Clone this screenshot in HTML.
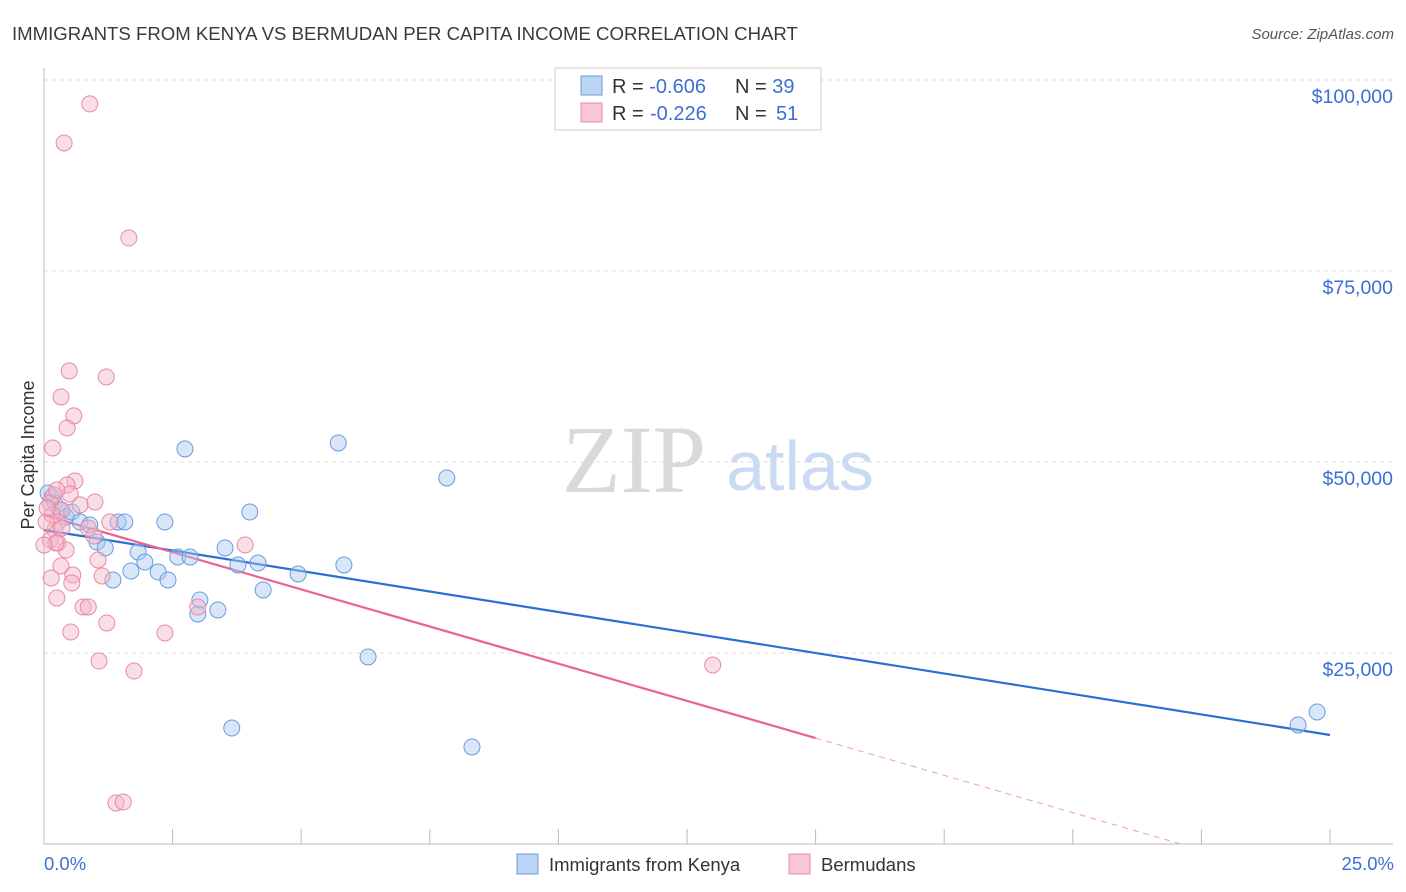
<!DOCTYPE html>
<html><head><meta charset="utf-8">
<style>
body{margin:0;background:#fff;font-family:"Liberation Sans",sans-serif;}
#wrap{position:relative;width:1406px;height:892px;overflow:hidden;}
</style></head>
<body>
<div id="wrap">
<svg id="svg" width="1406" height="892" xmlns="http://www.w3.org/2000/svg">
<text x="12" y="40" font-size="18.6" fill="#3a3a3a">IMMIGRANTS FROM KENYA VS BERMUDAN PER CAPITA INCOME CORRELATION CHART</text>
<text x="1394" y="39" font-size="15" fill="#555" font-style="italic" text-anchor="end">Source: ZipAtlas.com</text>
<text x="634" y="492" font-size="96" fill="#d9d9d9" font-family="Liberation Serif, serif" text-anchor="middle">ZIP</text>
<text x="800" y="490" font-size="70" fill="#c9daf2" text-anchor="middle">atlas</text>
<text transform="translate(34,455) rotate(-90)" font-size="18" fill="#333" text-anchor="middle">Per Capita Income</text>
<g id="grid"></g><g id="lines"></g><g id="pts"></g>
<g>
<rect x="555" y="68" width="266" height="62" fill="#fff" stroke="#ccc"/>
<rect x="581" y="76" width="21" height="19" fill="#bcd5f5" stroke="#6a9be0"/>
<rect x="581" y="103" width="21" height="19" fill="#f9c6d4" stroke="#e889a6"/>
<text x="612" y="93" font-size="20" fill="#333">R = <tspan fill="#3b6fd4">-0.606</tspan><tspan x="735">N = </tspan><tspan fill="#3b6fd4">39</tspan></text>
<text x="612" y="120" font-size="20" fill="#333">R = <tspan x="650" fill="#3b6fd4">-0.226</tspan><tspan x="735">N = </tspan><tspan x="776" fill="#3b6fd4">51</tspan></text>
</g>
<g>
<rect x="517" y="854" width="21" height="20" fill="#bcd5f5" stroke="#6a9be0"/>
<text x="549" y="871" font-size="18.5" fill="#333">Immigrants from Kenya</text>
<rect x="789" y="854" width="21" height="20" fill="#f9c6d4" stroke="#e889a6"/>
<text x="821" y="871" font-size="18.5" fill="#333">Bermudans</text>
</g>
<text x="44" y="870" font-size="18.5" fill="#3b6fd4">0.0%</text>
<text x="1394" y="870" font-size="18.5" fill="#3b6fd4" text-anchor="end">25.0%</text>
</svg>
</div>
<script>
const yTicks=[25000,50000,75000,100000];
const yTickLabels=["$25,000","$50,000","$75,000","$100,000"];
const xTicks=[0,2.5,5,7.5,10,12.5,15,17.5,20,22.5,25];
const kenyaX=[0.16,0.21,0.31,0.43,0.54,0.70,0.89,1.03,1.19,1.34,1.44,1.57,1.69,1.83,1.96,2.22,2.35,2.41,2.60,2.74,2.84,2.99,3.03,3.38,3.52,3.65,3.77,4.00,4.16,4.26,4.94,5.72,5.83,6.30,7.83,8.32,24.38,24.75,0.08];
const kenyaY=[45420,44640,43720,42800,43460,42150,41760,39530,38750,34560,42150,42150,35740,38220,36910,35600,42150,34560,37570,51710,37570,30110,31940,30630,38750,15180,36520,43460,36780,33250,35340,52490,36520,24480,47910,12700,15580,17280,45950];
const bermX=[0.89,0.39,1.65,0.49,1.21,0.33,0.58,0.45,0.17,0.60,0.45,0.51,0.19,0.99,0.12,0.35,0.16,0.27,1.28,0.86,0.97,0.21,0.12,0.27,0.43,3.91,1.05,0.33,0.56,0.14,1.13,0.54,0.25,0.76,0.86,2.99,1.22,0.52,2.35,1.07,1.75,13.0,1.40,1.54,0.04,0.06,0.35,0.25,0.70,0.23,0.0];
const bermY=[96870,91760,79330,61920,61130,58510,56030,54450,51840,47520,46990,45820,45680,44770,44640,43720,43070,42150,42150,41360,40320,41100,39790,39400,38480,39140,37180,36390,35210,34820,35080,34160,32200,31020,31020,31020,28930,27750,27620,23950,22640,23430,5370,5500,42150,43980,41360,46340,44380,39400,39140];
const kenyaTrend=[[0,41100],[25,14270]];
const bermTrendSolid=[[0,43060],[15,13870]];
const bermTrendDash=[[15,13870],[22.1,0]];

const NS="http://www.w3.org/2000/svg";
const X0=44,X1=1330,Y0=844,PXPER=191/25000;
const sx=v=>X0+(v/25)*(X1-X0);
const sy=v=>Y0-v*PXPER;
function mk(tag,attrs,parent){const e=document.createElementNS(NS,tag);for(const k in attrs)e.setAttribute(k,attrs[k]);parent.appendChild(e);return e;}
const grid=document.getElementById('grid'),lines=document.getElementById('lines'),pts=document.getElementById('pts');
yTicks.forEach((t,i)=>{
 const l=mk('line',{x1:X0,x2:1393,y1:sy(t),y2:sy(t),stroke:'#ddd','stroke-dasharray':'4,4'},grid);
 
 
 const tx=mk('text',{x:1393,y:sy(t)+23,'font-size':19.5,fill:'#3b6fd4','text-anchor':'end'},grid);
 tx.textContent=yTickLabels[i];
 
 
});
const ax=mk('line',{x1:X0,x2:1393,y1:Y0,y2:Y0,stroke:'#bbb'},grid);


const ay=mk('line',{x1:X0,x2:X0,y1:68,y2:Y0,stroke:'#bbb'},grid);


xTicks.forEach(t=>{
 const l=mk('line',{x1:sx(t),x2:sx(t),y1:829,y2:Y0,stroke:'#bbb'},grid);
 
 
});
function pt(x,y,fill,stroke,name){
 const c=mk('circle',{cx:sx(x),cy:sy(y),r:8,fill:fill,'fill-opacity':0.45,stroke:stroke,'stroke-width':1},pts);
 
 
}
kenyaX.forEach((x,i)=>pt(x,kenyaY[i],'#a9c8f0','#6a9be0','kenya-point'));
bermX.forEach((x,i)=>pt(x,bermY[i],'#f4b6c8','#e889a6','bermudan-point'));
function ln(p,color,w,dash,name){
 const l=mk('line',{x1:sx(p[0][0]),y1:sy(p[0][1]),x2:sx(p[1][0]),y2:sy(p[1][1]),stroke:color,'stroke-width':w},lines);
 if(dash)l.setAttribute('stroke-dasharray',dash);
 
 
}
ln(kenyaTrend,'#2b6fd6',2.2,null,'kenya-trendline');
ln(bermTrendSolid,'#e8638f',2.2,null,'bermudan-trendline');
ln(bermTrendDash,'#e8a0b6',1,'6,5','bermudan-trendline-extension');
</script>
</body></html>
